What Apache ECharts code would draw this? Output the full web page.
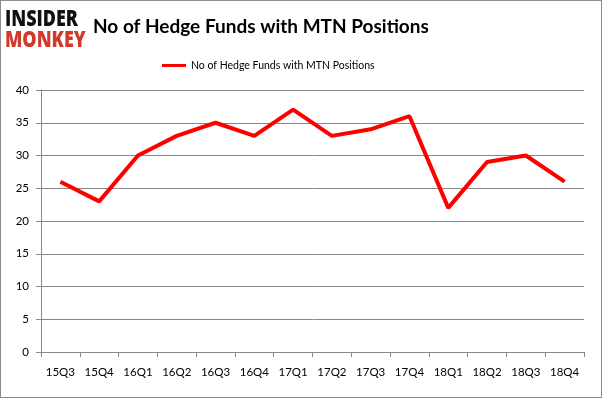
<!DOCTYPE html>
<html><head><meta charset="utf-8">
<script src="https://cdn.jsdelivr.net/npm/echarts@6/dist/echarts.min.js"></script>
<style>html,body{margin:0;padding:0;background:#fff}#c{width:602px;height:398px;box-sizing:border-box;border:1px solid #8c8c8c}</style>
</head><body><div id="c"></div>
<script>
const categories = ['15Q3','15Q4','16Q1','16Q2','16Q3','16Q4','17Q1','17Q2','17Q3','17Q4','18Q1','18Q2','18Q3','18Q4'];
const hedgeFunds = [26,23,30,33,35,33,37,33,34,36,22,29,30,26];
const seriesName = 'No of Hedge Funds with MTN Positions';
const titleText = 'No of Hedge Funds with MTN Positions';

const chart = echarts.init(document.getElementById('c'), null, {renderer:'canvas'});
chart.setOption({
  animation:false,
  title:{text:titleText,left:87,top:11,textStyle:{fontFamily:'Lato',fontWeight:'bold',fontSize:19,color:'#000'}},
  legend:{top:54,left:156,itemWidth:24,itemHeight:3,icon:'rect',itemGap:1,
    textStyle:{fontFamily:'Lato',fontSize:10.5,color:'#000'},data:[seriesName]},
  graphic:[
    {type:'text',x:4,y:7,scaleX:0.78,style:{text:'INSIDER',font:'900 23px "Open Sans"',fill:'#111'}},
    {type:'text',x:4,y:28,scaleX:0.78,style:{text:'MONKEY',font:'900 23px "Open Sans"',fill:'#d0392b'}}
  ],
  grid:{left:40,right:17,top:89,bottom:45,containLabel:false},
  xAxis:{type:'category',data:categories,boundaryGap:true,
    axisLine:{lineStyle:{color:'#888'}},
    axisTick:{show:true,alignWithLabel:false,length:5,lineStyle:{color:'#888'}},
    axisLabel:{fontFamily:'Lato',fontSize:11.5,color:'#000',margin:14}},
  yAxis:{type:'value',min:0,max:40,interval:5,
    axisLine:{show:true,lineStyle:{color:'#888'}},
    axisTick:{show:true,length:5,lineStyle:{color:'#888'}},
    splitLine:{lineStyle:{color:'#888'}},
    axisLabel:{fontFamily:'Lato',fontSize:11.5,color:'#000',margin:12}},
  series:[{name:seriesName,type:'line',data:hedgeFunds,symbol:'none',
    lineStyle:{color:'#ff0000',width:4},itemStyle:{color:'#ff0000'}}]
});
</script></body></html>
